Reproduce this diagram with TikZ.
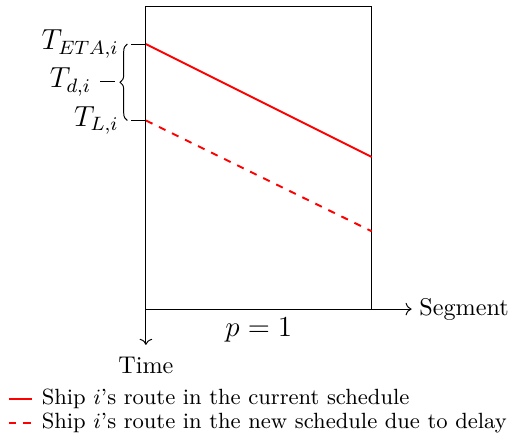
\documentclass[tikz,border=0pt]{standalone}
\usepackage{xcolor}
\usepackage{tikz}
\usetikzlibrary{arrows.meta, positioning, calc, decorations.pathreplacing}

\begin{document}
\begin{tikzpicture}[
  axis/.style={->, thin},
  route/.style={red, thick},
  delayed/.style={red, thick, dashed},
  tick/.style={thin},
  tlabel/.style={anchor=east, inner sep=0pt, font=\large},
  legtext/.style={right, inner sep=0pt, font=\fontsize{9.1}{11}\selectfont},
]
\useasboundingbox (-2.12,-1.79) rectangle (5.26,4.49);

% Segment box
\coordinate (o) at (0,0);
\draw (o) rectangle (3.28,4.40);
\node[below, font=\large] at (1.64,0) (seg) {$p=1$};

% Axes
\coordinate (xend) at (3.86,0);
\coordinate (yend) at (0,-0.52);
\draw[axis] (o) -- (xend);
\draw[axis] (o) -- (yend);
\node[right, inner sep=3pt] at (xend) (xlab) {Segment};
\node[below=5pt, inner sep=0pt] at (yend) (ylab) {Time};

% Routes
\coordinate (eta) at (0,3.85);
\coordinate (late) at (0,2.74);
\coordinate (etaend) at (3.28,2.21);
\coordinate (lateend) at (3.28,1.13);
\draw[route]   (eta)  -- (etaend);
\draw[delayed] (late) -- (lateend);

% Ticks and brace
\coordinate (etatick) at (-0.22,3.85);
\coordinate (latetick) at (-0.22,2.74);
\draw[tick] (eta) -- (etatick);
\draw[tick] (late) -- (latetick);
\node[tlabel] at (-0.39,3.85) (teta) {$T_{ETA,i}$};
\node[tlabel] at (-0.39,2.74) (tl) {$T_{L,i}$};
\draw[decorate, decoration={brace, amplitude=3pt}]
  (-0.27,2.74) -- (-0.27,3.85);
\coordinate (dtick) at (-0.45,3.30);
\draw[tick] (dtick) -- ++(-0.22,0) coordinate (dend);
\node[tlabel] at (-0.79,3.30) (td) {$T_{d,i}$};

% Legend
\coordinate (leg1) at (-1.99,-1.31);
\coordinate (leg2) at (-1.99,-1.655);
\draw[route]   (leg1) -- ++(0.33,0) coordinate (leg1e);
\draw[delayed] (leg2) -- ++(0.33,0) coordinate (leg2e);
\node[legtext] at ($(leg1e)+(0.14,0)$) (l1) {Ship $i$'s route in the current schedule};
\node[legtext] at ($(leg2e)+(0.14,0)$) (l2) {Ship $i$'s route in the new schedule due to delay};

\end{tikzpicture}
\end{document}
